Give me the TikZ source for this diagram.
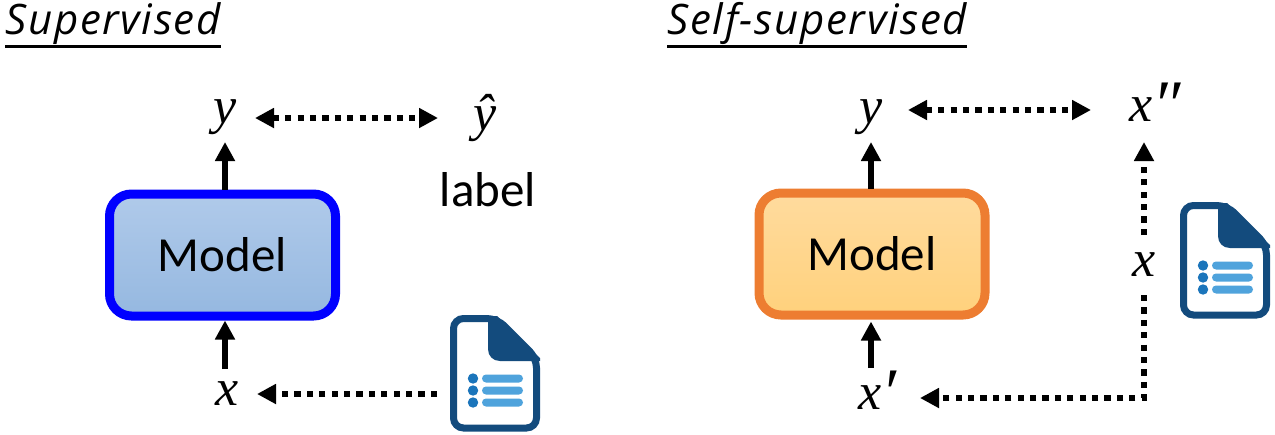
\documentclass[tikz,border=0pt]{standalone}
\usepackage{fontspec}
\setmainfont{Carlito}
\newfontfamily\titlefont[LetterSpace=4.0]{Open Sans}
\newfontfamily\mathfont{Liberation Serif}
\usetikzlibrary{arrows.meta}
\newcommand{\headline}[1]{\setbox0=\hbox{#1}\rlap{\rule[-6.8pt]{\wd0}{1.4pt}}\box0}
\newcommand{\bigprime}[1]{\smash{\raisebox{-3pt}{\fontsize{34}{34}\selectfont #1}}}
\definecolor{blueTop}{HTML}{B0CAEA}
\definecolor{blueBot}{HTML}{95B8E0}
\definecolor{orangeTop}{HTML}{FFDB9E}
\definecolor{orangeBot}{HTML}{FFD17C}
\definecolor{orangeEdge}{HTML}{ED7D31}
\definecolor{docDark}{HTML}{134B7D}
\definecolor{docMid}{HTML}{1B75BB}
\definecolor{docLight}{HTML}{4FA3DC}
\begin{document}
\begin{tikzpicture}[x=0.5pt, y=-0.5pt,
      model/.style={draw, rounded corners=11pt, line width=4.5pt, inner sep=0pt,
                    minimum width=113pt, minimum height=61pt,
                    font=\fontsize{24.5}{28}\selectfont},
      var/.style={inner sep=0pt, outer sep=0pt, minimum width=30pt, minimum height=25pt,
                  font=\mathfont\itshape\fontsize{26}{30}\selectfont},
      heading/.style={inner sep=0pt, anchor=base west, font=\titlefont\itshape\fontsize{21}{24}\selectfont},
      solidarrow/.style={-{Triangle[width=9.5pt,length=9.5pt]}, line width=3.3pt},
      dotline/.style={line width=3.3pt, dash pattern=on 3.1pt off 3.1pt},
      dotarrow/.style={dotline, -{Triangle[width=9.5pt,length=9.5pt]}},
      dotboth/.style={dotline, {Triangle[width=9.5pt,length=9.5pt]}-{Triangle[width=9.5pt,length=9.5pt]}},
      docicon/.pic={
        \draw[docDark, line width=3.5pt, fill=white, rounded corners=5pt]
          (3.5,3.5) -- (47,3.5) -- (86.5,43) -- (86.5,113) -- (3.5,113) -- cycle;
        \fill[docDark] (38,1) -- (47,1) -- (90,43) -- (90,46) -- (50,46)
          .. controls (43,46) and (38,41) .. (38,34) -- cycle;
        \foreach \yy in {63.5,75.5,87.5} {
          \fill[docMid] (23,\yy) circle (2.6pt);
          \fill[docLight, rounded corners=2pt] (32,\yy-4) rectangle (73,\yy+4);
        }
      }]
    \useasboundingbox (0,0) rectangle (1275,434);

    \node[heading] (titleA) at (5,34) {\headline{Supervised}};
    \node[heading] (titleB) at (667,34) {\headline{Self-supervised}};

    \node[model, top color=blueTop, bottom color=blueBot, draw=blue] (modelA) at (222.5,255) {Model};
    \node[var] (yA) at (225,117) {y};
    \node[var, minimum width=47pt] (yhatA) at (485,118) {ŷ};
    \node[font=\fontsize{24.5}{28}\selectfont, inner sep=0pt] (labelA) at (488,190) {label};
    \node[var] (xA) at (227,394) {x};
    \coordinate (docA) at (450,315);
    \coordinate (docportA) at (437,394);
    \pic at (docA) {docicon};

    \draw[solidarrow] (modelA.north -| yA) -- (yA.south);
    \draw[solidarrow] (xA.north -| yA) -- (modelA.south -| yA);
    \draw[dotboth] (yA.east |- yhatA.west) -- (yhatA.west);
    \draw[dotarrow] (docportA) -- (xA);

    \node[model, top color=orangeTop, bottom color=orangeBot, draw=orangeEdge] (modelB) at (872,254) {Model};
    \node[var, minimum width=37pt] (yB) at (871,117) {y};
    \node[var, minimum width=64pt, minimum height=32pt] (xppB) at (1155,110) {x\bigprime{″}};
    \node[var, minimum height=30pt] (xmidB) at (1144,265) {x};
    \node[var, minimum width=43pt, minimum height=30pt] (xpB) at (877,398) {x\bigprime{′}};
    \coordinate (cornerB) at (1144,398);
    \coordinate (docB) at (1180,202);
    \pic at (docB) {docicon};

    \draw[solidarrow] (modelB.north -| yB) -- (yB.south);
    \draw[solidarrow] (xpB.north -| yB) -- ([yshift=-1pt]modelB.south -| yB);
    \draw[dotboth] (yB.east |- xppB.west) -- (xppB.west);
    \draw[dotarrow] (xmidB.north) -- (xmidB.north |- xppB.south);
    \draw[dotarrow] (xmidB.south) -- (cornerB) -- (xpB.east |- cornerB);
  \end{tikzpicture}
\end{document}
